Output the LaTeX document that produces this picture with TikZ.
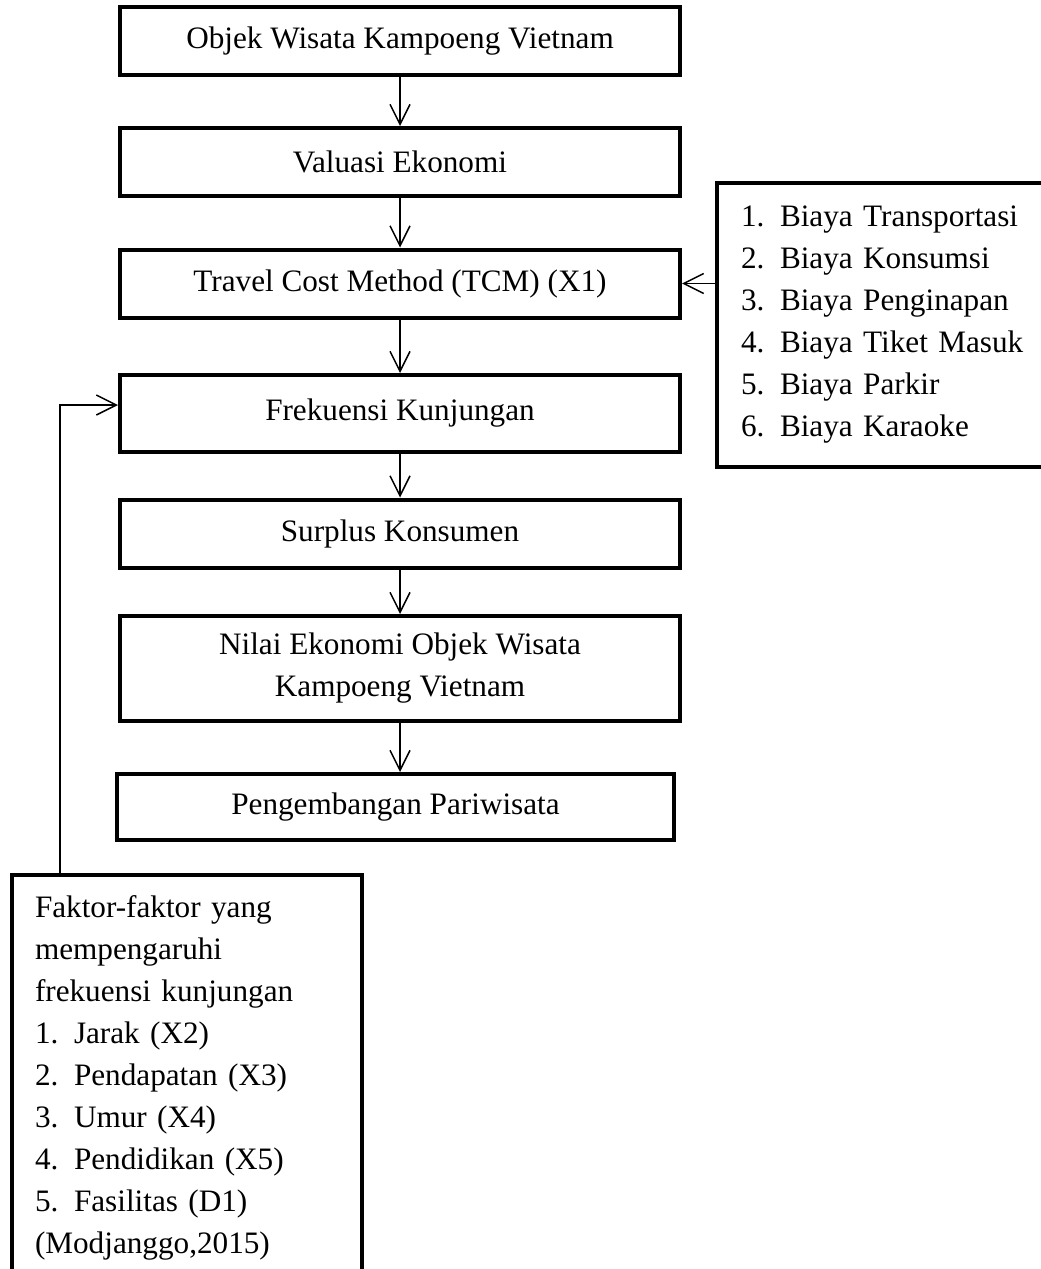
\documentclass[tikz,border=0pt]{standalone}
\usepackage{fontspec}
\setmainfont{Liberation Serif}
\usetikzlibrary{arrows.meta}

\begin{document}
\begin{tikzpicture}[x=0.5pt,y=-0.5pt,
        every node/.style={font=\fontsize{15.6}{21}\selectfont},
        box/.style={draw,line width=2pt,minimum width=280pt,minimum height=34pt,align=center},
        listbox/.style={draw,line width=2pt,align=left,inner xsep=12pt},
        arr/.style={line width=0.75pt,-{Straight Barb[length=10pt,width=10pt]}}]
        \useasboundingbox (0,0) rectangle (1040,1269);
        \node[box] (obj) at (400,41) {Objek Wisata Kampoeng Vietnam};
        \node[box] (val) at (400,162) {Valuasi Ekonomi};
        \node[box] (tcm) at (400,283.5) {Travel Cost Method (TCM) (X1)};
        \node[box,minimum height=38.5pt] (frek) at (400,413.5) {Frekuensi Kunjungan};
        \node[box] (surplus) at (400,533.5) {Surplus Konsumen};
        \node[box,minimum height=52.5pt] (nilai) at (400,668.5) {Nilai Ekonomi Objek Wisata\\Kampoeng Vietnam};
        \node[box,minimum width=278.5pt,minimum height=33pt] (dev) at (395.5,807) {Pengembangan Pariwisata};
        % daftar biaya
        \node[listbox,text width=151pt,minimum height=142pt,anchor=west] (biaya) at (715,325)
            {1.\enspace Biaya Transportasi\\2.\enspace Biaya Konsumsi\\3.\enspace Biaya Penginapan\\
             4.\enspace Biaya Tiket Masuk\\5.\enspace Biaya Parkir\\6.\enspace Biaya Karaoke};
        % faktor frekuensi kunjungan
        \node[listbox,inner xsep=11.5pt,text width=152pt,minimum height=203pt,anchor=west] (faktor) at (10,1078)
            {Faktor-faktor yang\\mempengaruhi\\frekuensi kunjungan\\1.\enspace Jarak (X2)\\
             2.\enspace Pendapatan (X3)\\3.\enspace Umur (X4)\\4.\enspace Pendidikan (X5)\\
             5.\enspace Fasilitas (D1)\\(Modjanggo,2015)};
        \coordinate (bend) at (60,405);
        \draw[arr] (obj) -- (val);
        \draw[arr] (val) -- (tcm);
        \draw[arr] (tcm) -- (frek);
        \draw[arr] (frek) -- (surplus);
        \draw[arr] (surplus) -- (nilai);
        \draw[arr] (nilai.south) -- (nilai.south |- dev.north);
        \draw[arr] (biaya.west |- tcm.east) -- (tcm.east);
        \draw[arr] (bend |- faktor.north) -- (bend) -- (bend -| frek.west);
    \end{tikzpicture}
\end{document}
